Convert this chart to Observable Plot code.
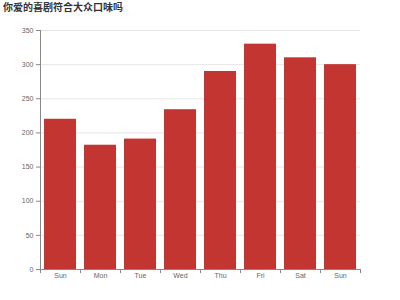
<!DOCTYPE html>
<html><head><meta charset="utf-8">
<script src="https://cdn.jsdelivr.net/npm/d3@7"></script>
<script src="https://cdn.jsdelivr.net/npm/@observablehq/plot@0.6"></script>
<style>
body{margin:0;background:#fff;font-family:"Noto Sans CJK SC",sans-serif;}
#wrap{position:relative;width:400px;height:300px;}
#title{position:absolute;left:3px;top:0px;font-size:10px;font-weight:bold;color:#333;line-height:14px;font-family:"Noto Sans CJK SC",sans-serif;}
</style></head>
<body><div id="wrap"><div id="title">你爱的喜剧符合大众口味吗</div></div>
<script>
const title = "你爱的喜剧符合大众口味吗";
const days = ["Sun","Mon","Tue","Wed","Thu","Fri","Sat","Sun"];
const values = [220, 182, 191, 234, 290, 330, 310, 300];
const yTicks = [0,50,100,150,200,250,300,350];

document.getElementById("title").textContent = title;
const data = days.map((d,i)=>({i, day:d, value:values[i]}));
const idx = data.map(d=>d.i);
const last = idx.length-1;

const chart = Plot.plot({
  width: 400, height: 300,
  marginLeft: 40, marginRight: 40, marginTop: 30, marginBottom: 31,
  style: {fontFamily: "'Liberation Sans', Arial, sans-serif", fontSize: "7px", color: "#666", background: "transparent"},
  x: {type: "band", domain: idx, paddingInner: 0.2, paddingOuter: 0.1, label: null, axis: null},
  y: {domain: [0, 350], label: null, axis: null},
  marks: [
    Plot.gridY(yTicks, {stroke: "#e6e6e6", strokeOpacity: 1}),
    Plot.barY(data, {x: "i", y: "value", fill: "#c23531"}),
    Plot.axisY(yTicks, {tickSize: 4, tickPadding: 3, stroke: "#888", fill: "#666", label: null}),
    Plot.axisX(idx, {tickSize: 0, tickPadding: 4, tickFormat: i => days[i], fill: "#666", label: null}),
    Plot.axisX(idx, {tickSize: 4, dx: -20, tickFormat: () => "", stroke: "#888", label: null}),
    Plot.axisX([last], {tickSize: 4, dx: 20, tickFormat: () => "", stroke: "#888", label: null}),
    Plot.frame({anchor: "left", stroke: "#888"}),
    Plot.frame({anchor: "bottom", stroke: "#888"})
  ]
});
document.getElementById("wrap").appendChild(chart);
</script>
</body></html>
